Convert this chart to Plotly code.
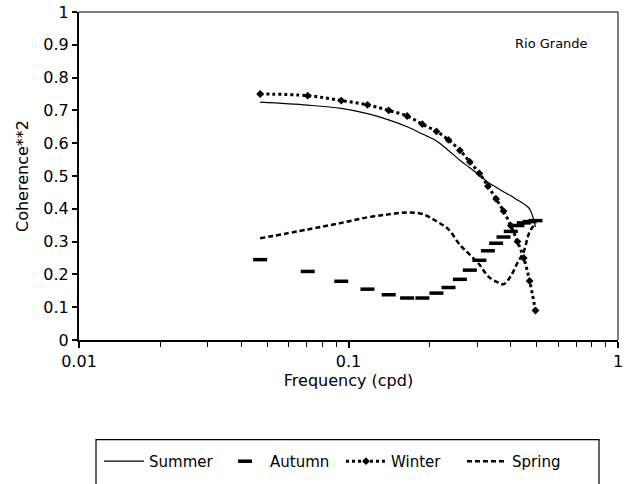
import plotly.graph_objects as go

# Frequencies (cpd)
freq = [0.047, 0.0706, 0.094, 0.1176, 0.141, 0.165, 0.188, 0.212, 0.235, 0.259,
        0.282, 0.306, 0.329, 0.353, 0.376, 0.400, 0.4235, 0.447, 0.470, 0.494]

summer = [0.725, 0.716, 0.706, 0.690, 0.671, 0.650, 0.628, 0.607, 0.578, 0.548,
          0.525, 0.503, 0.481, 0.466, 0.452, 0.440, 0.427, 0.415, 0.400, 0.345]
autumn = [0.245, 0.209, 0.179, 0.155, 0.138, 0.128, 0.128, 0.143, 0.160, 0.185,
          0.213, 0.243, 0.272, 0.295, 0.314, 0.331, 0.349, 0.357, 0.361, 0.364]
winter = [0.750, 0.745, 0.730, 0.717, 0.700, 0.683, 0.658, 0.636, 0.610, 0.578,
          0.543, 0.508, 0.469, 0.430, 0.393, 0.349, 0.300, 0.250, 0.180, 0.090]
spring = [0.310, 0.337, 0.357, 0.374, 0.383, 0.389, 0.384, 0.362, 0.337, 0.290,
          0.260, 0.230, 0.195, 0.178, 0.170, 0.195, 0.235, 0.270, 0.330, 0.355]

y_ticks = [0, 0.1, 0.2, 0.3, 0.4, 0.5, 0.6, 0.7, 0.8, 0.9, 1]
y_tick_text = ["0", "0.1", "0.2", "0.3", "0.4", "0.5", "0.6", "0.7", "0.8", "0.9", "1"]
x_ticks = [0.01, 0.1, 1]
x_tick_text = ["0.01", "0.1", "1"]

FONT = "DejaVu Sans, Verdana, sans-serif"

fig = go.Figure()
fig.add_trace(go.Scatter(x=freq, y=summer, name="Summer", mode="lines",
                         line=dict(color="black", width=1.2, shape="spline")))
fig.add_trace(go.Scatter(x=freq, y=autumn, name="Autumn", mode="markers",
                         marker=dict(symbol="line-ew", size=10, color="black",
                                     line=dict(color="black", width=3.5))))
fig.add_trace(go.Scatter(x=freq, y=winter, name="Winter", mode="lines+markers",
                         line=dict(color="black", width=3, dash="dot", shape="spline"),
                         marker=dict(symbol="diamond", size=6, color="black")))
fig.add_trace(go.Scatter(x=freq, y=spring, name="Spring", mode="lines",
                         line=dict(color="black", width=2.5, dash="5px,3px", shape="spline")))

fig.update_layout(
    width=624, height=484,
    margin=dict(l=79, r=6, t=12, b=137),
    paper_bgcolor="white", plot_bgcolor="white",
    font=dict(family=FONT, color="black", size=16),
    showlegend=True,
    legend=dict(orientation="h", x=(99 - 79) / 539, xanchor="left", y=-0.32, yanchor="top",
                font=dict(size=15, family=FONT), bgcolor="rgba(0,0,0,0)",
                itemwidth=40, entrywidth=66, traceorder="normal"),
    xaxis=dict(type="log", range=[-2, 0], tickvals=x_ticks, ticktext=x_tick_text,
               ticks="outside", ticklen=6, tickwidth=1.5, tickcolor="black",
               minor=dict(ticks="outside", ticklen=5, tickwidth=1, tickcolor="black",
                          dtick="D1", showgrid=False),
               showline=True, linecolor="black", linewidth=2, showgrid=False,
               zeroline=False, automargin=False, tickfont=dict(size=16),
               title=dict(text="Frequency (cpd)", font=dict(size=16), standoff=2)),
    yaxis=dict(range=[0, 1], tickvals=y_ticks, ticktext=y_tick_text,
               ticks="outside", ticklen=5, tickwidth=1.5, tickcolor="black",
               showline=True, linecolor="black", linewidth=2, showgrid=False,
               zeroline=False, automargin=False, tickfont=dict(size=16),
               title=dict(text="Coherence**2", font=dict(size=16), standoff=11)),
    shapes=[
        dict(type="line", xref="paper", yref="paper", x0=0, x1=1, y0=1, y1=1,
             line=dict(color="black", width=1)),
        dict(type="line", xref="paper", yref="paper", x0=1, x1=1, y0=0, y1=1,
             line=dict(color="black", width=1)),
        dict(type="rect", xref="paper", yref="paper",
             x0=(96 - 79) / 539, x1=(599 - 79) / 539,
             y0=-0.304, y1=-0.45, line=dict(color="black", width=1.2)),
    ],
    annotations=[
        dict(text="Rio Grande", xref="paper", yref="paper", x=0.877, y=0.905,
             showarrow=False, font=dict(size=13, family=FONT), xanchor="center",
             yanchor="middle"),
    ],
)

fig.write_html("out.html", config={"displayModeBar": False},
               post_script="document.body.style.margin='0';document.body.style.overflow='hidden';")
